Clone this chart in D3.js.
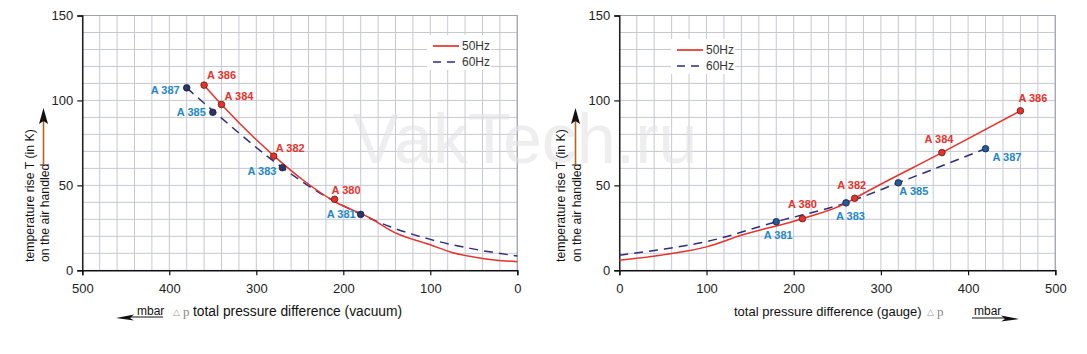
<!DOCTYPE html>
<html><head><meta charset="utf-8">
<script src="https://cdn.jsdelivr.net/npm/d3@7"></script>
<style>
html,body{margin:0;padding:0;background:#fff;}
svg{display:block;font-family:"Liberation Sans",Arial,sans-serif;}
</style></head>
<body>
<svg id="c" width="1087" height="354"></svg>
<script>
// ---------- data ----------
const xTicksVac = [500, 400, 300, 200, 100, 0];
const xTicksGauge = [0, 100, 200, 300, 400, 500];
const yTicks = [0, 50, 100, 150];
const legendLabels = ["50Hz", "60Hz"];

// vacuum (left)
const vac50Curve = [[360,109],[340,97.6],[280,67.5],[246,53],[210,40.5],[170,31],[140,22],[100,15],[75,10.5],[40,7],[0,5]];
const vac60Curve = [[380,107.4],[350,94],[270,60.4],[230,46.5],[180,33],[146,25.6],[100,18.2],[54,12.9],[0,8.4]];
const vac50Points = [["A 386",360,109],["A 384",340,97.6],["A 382",280,67.2],["A 380",210,41.8]];
const vac60Points = [["A 387",380,107.4],["A 385",350,93],["A 383",270,60.4],["A 381",180,32.9]];

// gauge (right)
const gau50Curve = [[0,5.9],[62,10],[100,13.8],[138,20.3],[210,30.4],[260,39.5],[270,42.4],[370,69.3],[460,93.9]];
const gau60Curve = [[0,8.9],[50,12.4],[100,16.9],[180,28.6],[260,39.7],[320,51.5],[420,71.6]];
const gau50Points = [["A 380",210,30.4],["A 382",270,42.4],["A 384",370,69.3],["A 386",460,93.9]];
const gau60Points = [["A 381",180,28.6],["A 383",260,39.7],["A 385",320,51.5],["A 387",420,71.6]];

// ---------- layout (label offsets in px) ----------
const vacOff = {"A 386":[3,-6,"start"],"A 384":[3,-5,"start"],"A 382":[2,-4,"start"],"A 380":[-3,-5,"start"],
                "A 387":[-7,6,"end"],"A 385":[-7,4,"end"],"A 383":[-6,7,"end"],"A 381":[-5,4,"end"]};
const gauOff = {"A 380":[0,-11,"middle"],"A 382":[-3,-9,"middle"],"A 384":[-3,-10,"middle"],"A 386":[-2,-9,"start"],
                "A 381":[2,17,"middle"],"A 383":[4.5,17,"middle"],"A 385":[1,12,"start"],"A 387":[7,12,"start"]};

const RED = "#e6322b", NAVY = "#2f2c7c", LBLUE = "#1f86c8", GRID = "#c6c9d3";
const svg = d3.select("#c");

function panel(o) {
  const x = d3.scaleLinear().domain(o.xDomain).range([o.x0, o.x1]);
  const y = d3.scaleLinear().domain([0, 150]).range([270.3, 15.5]);
  const g = svg.append("g");
  const gx = d3.range(0, 501, 20), gy = d3.range(0, 151, 10);
  g.selectAll(".gv").data(gx).join("line")
    .attr("x1", d => x(d)).attr("x2", d => x(d)).attr("y1", y(0)).attr("y2", y(150))
    .attr("stroke", GRID).attr("stroke-width", 1);
  g.selectAll(".gh").data(gy).join("line")
    .attr("x1", o.x0).attr("x2", o.x1).attr("y1", d => y(d)).attr("y2", d => y(d))
    .attr("stroke", GRID).attr("stroke-width", 1);
  g.append("path").attr("d", `M${o.x0},${y(150)}H${o.x1}V${y(0)}`).attr("fill", "none")
    .attr("stroke", "#9fa3ab").attr("stroke-width", 1.2);
  const ax = g.append("g").attr("transform", `translate(0,${y(0)})`)
    .call(d3.axisBottom(x).tickValues(o.xTicks).tickSize(5).tickPadding(8).tickFormat(d3.format("d")));
  const ay = g.append("g").attr("transform", `translate(${o.x0},0)`)
    .call(d3.axisLeft(y).tickValues(yTicks).tickSize(5).tickPadding(4));
  [ax, ay].forEach(a => {
    a.select(".domain").attr("stroke", "#111").attr("stroke-width", 1.4);
    a.selectAll(".tick line").attr("stroke", "#111").attr("stroke-width", 1.2);
    a.selectAll("text").attr("font-size", 13).attr("fill", "#222")
      .attr("font-family", '"Liberation Sans",Arial,sans-serif');
  });
  return {x, y, g};
}

function drawSeries(p, c50, c60, pts50, pts60, offs, blueFill) {
  const line = d3.line().x(d => p.x(d[0])).y(d => p.y(d[1])).curve(d3.curveMonotoneX);
  p.g.append("path").datum(c60).attr("d", line).attr("fill", "none")
    .attr("stroke", NAVY).attr("stroke-width", 1.5).attr("stroke-dasharray", "9,6");
  p.g.append("path").datum(c50).attr("d", line).attr("fill", "none")
    .attr("stroke", RED).attr("stroke-width", 1.5);
  p.g.selectAll(".p60").data(pts60).join("circle")
    .attr("cx", d => p.x(d[1])).attr("cy", d => p.y(d[2])).attr("r", 3.3)
    .attr("fill", blueFill).attr("stroke", "#1b1b3a").attr("stroke-width", 0.8);
  p.g.selectAll(".p50").data(pts50).join("circle")
    .attr("cx", d => p.x(d[1])).attr("cy", d => p.y(d[2])).attr("r", 3.3)
    .attr("fill", RED).attr("stroke", "#5a1a1a").attr("stroke-width", 0.8);
  const lab = (data, col) => p.g.selectAll(null).data(data).join("text")
    .attr("x", d => p.x(d[1]) + offs[d[0]][0]).attr("y", d => p.y(d[2]) + offs[d[0]][1])
    .attr("text-anchor", d => offs[d[0]][2])
    .attr("font-size", 11).attr("font-weight", "bold").attr("fill", col).text(d => d[0]);
  lab(pts50, RED); lab(pts60, LBLUE);
}

function legend(lx, ly) {
  const g = svg.append("g");
  g.append("rect").attr("x", lx - 6).attr("y", ly - 11).attr("width", 64).attr("height", 35).attr("fill", "#fff");
  g.append("line").attr("x1", lx).attr("x2", lx + 26).attr("y1", ly).attr("y2", ly).attr("stroke", RED).attr("stroke-width", 1.7);
  g.append("line").attr("x1", lx).attr("x2", lx + 26).attr("y1", ly + 16).attr("y2", ly + 16).attr("stroke", NAVY)
    .attr("stroke-width", 1.7).attr("stroke-dasharray", "8,6");
  g.selectAll(null).data(legendLabels).join("text").attr("x", lx + 29).attr("y", (d, i) => ly + 4 + i * 16)
    .attr("font-size", 12).attr("fill", "#333").text(d => d);
}

function yLabel(cx, gap) {
  const g = svg.append("g").attr("transform", `translate(${cx},262) rotate(-90)`);
  g.append("text").attr("x", 0).attr("y", 0).attr("font-size", 12.3).attr("fill", "#111").text("temperature rise T (in K)");
  g.append("text").attr("x", 0).attr("y", gap).attr("font-size", 12.3).attr("fill", "#111").text("on the air handled");
  g.append("line").attr("x1", 97).attr("x2", 146).attr("y1", gap - 5.5).attr("y2", gap - 5.5)
    .attr("stroke", "#b5651d").attr("stroke-width", 1.6);
  g.append("path").attr("d", `M154,${gap - 5.5} L138,${gap - 10} L141,${gap - 5.5} L138,${gap - 1} Z`).attr("fill", "#111");
}

function deltaP(x, y) {
  t.append("text").attr("x", x).attr("y", y - 1).attr("fill", "#999").attr("font-size", 9).text("△");
  t.append("text").attr("x", x + 10).attr("y", y).attr("fill", "#888").attr("font-size", 13)
    .attr("font-family", '"Liberation Serif","DejaVu Serif",serif').text("p");
}

const L = panel({xDomain: [500, 0], x0: 82.3, x1: 517.3, xTicks: xTicksVac});
const R = panel({xDomain: [0, 500], x0: 619.3, x1: 1055.3, xTicks: xTicksGauge});

// watermark
svg.append("text").attr("x", 525).attr("y", 163).attr("text-anchor", "middle")
  .attr("font-size", 70).attr("fill", "#e2e2e2").attr("fill-opacity", 0.6).text("VakTech.ru");

drawSeries(L, vac50Curve, vac60Curve, vac50Points, vac60Points, vacOff, "#2c3566");
drawSeries(R, gau50Curve, gau60Curve, gau50Points, gau60Points, gauOff, "#1f5d9c");
legend(433, 46);
legend(677, 50);
yLabel(34, 15);
yLabel(565, 16);

// x-axis titles
const t = svg.append("g").attr("font-size", 12).attr("fill", "#111");
t.append("text").attr("x", 137).attr("y", 315).text("mbar");
t.append("line").attr("x1", 127).attr("x2", 163).attr("y1", 317).attr("y2", 317).attr("stroke", "#111").attr("stroke-width", 1.2);
t.append("path").attr("d", "M116,318 L134,314.5 L130,318 L134,320.5 Z").attr("fill", "#111");
deltaP(173, 316);
t.append("text").attr("x", 193).attr("y", 316).attr("font-size", 13.8).text("total pressure difference (vacuum)");

t.append("text").attr("x", 734).attr("y", 316).attr("font-size", 13).text("total pressure difference (gauge)");
deltaP(927, 316);
t.append("text").attr("x", 974).attr("y", 315).text("mbar");
t.append("line").attr("x1", 972).attr("x2", 1008).attr("y1", 318).attr("y2", 318).attr("stroke", "#111").attr("stroke-width", 1.2);
t.append("path").attr("d", "M1019,319 L1001,315.5 L1005,319 L1001,321.5 Z").attr("fill", "#111");
</script>
</body></html>
